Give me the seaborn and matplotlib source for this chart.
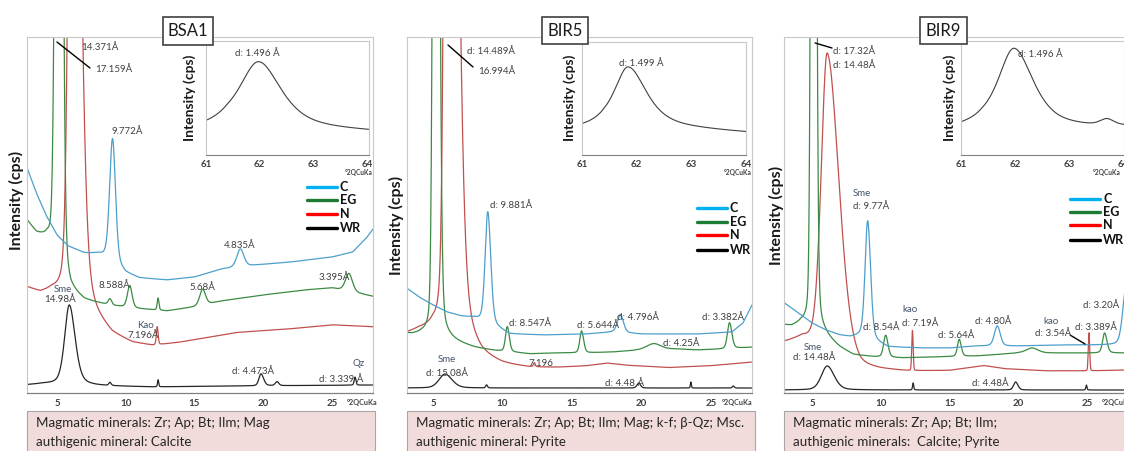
import numpy as np
import pandas as pd
import matplotlib
matplotlib.use("Agg")
import matplotlib.pyplot as plt
import seaborn as sns
from matplotlib.lines import Line2D
from matplotlib.patches import Rectangle
from matplotlib.ticker import MultipleLocator

sns.set_theme(style="white")
plt.rcParams["font.family"] = ["Lato", "DejaVu Sans"]

LAMBDA = 1.5406  # Cu K-alpha wavelength, Å

# ---------------------------------------------------------------------------
# Diffractogram description: background knots (°2θ, cps) and reflections
# (d-spacing Å, height cps, FWHM low-angle side, FWHM high-angle side, eta)
# ---------------------------------------------------------------------------
SERIES = ["C", "EG", "N", "WR"]

# BSA1
BSA1_C_BG = [(2.8, 226), (3.5, 200), (4.2, 178), (5.0, 158), (5.8, 147), (7, 140), (8, 139), (9, 133),
             (10, 120), (11, 115), (13, 113), (15, 116), (17, 124), (19.5, 128), (22, 131), (25, 136),
             (26.5, 141), (27.5, 155), (28.2, 168)]
BSA1_C_PK = [(9.772, 122, 0.5, 0.5, 0.3), (4.835, 18, 0.6, 0.6, 0.3)]
BSA1_EG_BG = [(2.8, 172), (3.5, 158), (4.3, 150), (6, 100), (7, 92), (9, 87), (11, 84), (13, 82), (15, 86),
              (17, 92), (20, 98), (23, 103), (25, 105), (28.2, 96)]
BSA1_EG_PK = [(17.159, 1500, 0.45, 0.45, 0.15), (9.98, 6, 0.3, 0.3, 0.3), (8.588, 22, 0.4, 0.4, 0.3),
              (7.16, 12, 0.15, 0.15, 0.3), (5.68, 16, 0.5, 0.5, 0.3), (3.395, 18, 0.6, 0.6, 0.3)]
BSA1_N_BG = [(2.8, 105), (3.8, 99), (4.6, 100), (5.5, 95), (7, 78), (8, 66), (9, 55), (10.5, 48), (12, 46),
             (14, 50), (16, 55), (18, 60), (20, 62), (22, 64), (25, 68), (28.2, 66)]
BSA1_N_PK = [(14.371, 900, 0.6, 1.1, 0.25), (7.196, 18, 0.15, 0.15, 0.3)]
BSA1_WR_BG = [(2.8, 8), (4, 9), (8, 7), (12, 6), (18, 7), (28.2, 8)]
BSA1_WR_PK = [(14.98, 80, 0.8, 1.0, 0.4), (9.98, 3, 0.2, 0.2, 0.3), (7.16, 7, 0.1, 0.1, 0.3),
              (4.473, 12, 0.35, 0.45, 0.3), (4.227, 4, 0.3, 0.3, 0.3), (3.339, 8, 0.15, 0.15, 0.3)]
BSA1_IN_BG = [(61, 27), (61.4, 30), (62.8, 26), (64.1, 23)]
BSA1_IN_PK = [(1.496, 65, 0.85, 1.0, 0.7)]

# BIR5
BIR5_C_BG = [(2.8, 108), (4, 96), (5, 88), (6, 81), (7, 77), (8, 75), (9.5, 66), (10.5, 59), (13, 58),
             (16, 59), (18, 61), (20, 59), (24, 59), (26.5, 61), (27.3, 70), (28.2, 95)]
BIR5_C_PK = [(9.881, 112, 0.45, 0.5, 0.3), (4.796, 18, 0.5, 0.5, 0.3)]
BIR5_EG_BG = [(2.8, 60), (3.5, 58), (4.2, 58), (6, 52), (8, 45), (9.5, 42), (12, 39), (14, 40), (16, 40),
              (18, 41), (20, 43), (22.5, 44), (24, 43), (26, 44), (28.2, 46)]
BIR5_EG_PK = [(16.994, 1500, 0.35, 0.45, 0.15), (8.547, 25, 0.3, 0.35, 0.3), (5.644, 22, 0.3, 0.35, 0.3),
              (4.25, 6, 1.2, 1.2, 0.3), (3.382, 26, 0.35, 0.4, 0.3)]
BIR5_N_BG = [(2.8, 58), (4, 62), (5, 62), (6.5, 45), (7.5, 35), (8.5, 27), (10, 24), (12, 23), (14, 24),
             (16, 26), (17.5, 29), (19, 27), (22, 25), (25, 27), (28.2, 31)]
BIR5_N_PK = [(14.489, 1400, 0.5, 1.2, 0.25), (7.196, 4, 0.15, 0.15, 0.3)]
BIR5_WR_BG = [(2.8, 5), (28.2, 5)]
BIR5_WR_PK = [(15.08, 14, 1.0, 1.2, 0.3), (9.98, 3, 0.15, 0.15, 0.3), (4.48, 5, 0.3, 0.3, 0.3),
              (3.775, 6, 0.08, 0.08, 0.3), (3.348, 2, 0.15, 0.15, 0.3)]
BIR5_IN_BG = [(61, 27), (61.4, 30), (62.6, 27), (64.1, 22)]
BIR5_IN_PK = [(1.499, 60, 0.6, 0.8, 0.7)]

# BIR9
BIR9_C_BG = [(2.8, 92), (4, 80), (5, 70), (6, 63), (7, 58), (7.8, 56), (8.5, 57), (9.5, 52), (10.5, 46),
             (13, 45), (15, 45), (17, 47), (20, 47), (23, 48), (25, 48), (28.2, 48)]
BIR9_C_PK = [(9.77, 118, 0.45, 0.5, 0.3), (4.80, 20, 0.5, 0.5, 0.3), (3.20, 60, 0.6, 0.6, 0.3)]
BIR9_EG_BG = [(2.8, 68), (3.5, 66), (4.2, 68), (6, 55), (7, 45), (8, 38), (9.5, 36), (11.5, 35), (14, 36),
              (17, 37), (20, 40), (22, 40), (25, 40), (28.2, 40)]
BIR9_EG_PK = [(17.32, 1800, 0.3, 0.35, 0.15), (8.54, 22, 0.35, 0.4, 0.3), (5.64, 17, 0.3, 0.35, 0.3),
              (4.227, 5, 1.0, 1.0, 0.3), (3.389, 20, 0.35, 0.4, 0.3)]
BIR9_N_BG = [(2.8, 50), (4.3, 55), (5.5, 50), (7, 35), (8.5, 24), (10, 22), (12, 21), (15, 22), (17.5, 27),
             (19, 24), (22, 22), (25, 22), (28.2, 23)]
BIR9_N_PK = [(14.48, 296, 1.0, 2.0, 0.2), (7.19, 40, 0.12, 0.12, 0.1), (3.54, 38, 0.12, 0.12, 0.1)]
BIR9_WR_BG = [(2.8, 3), (28.2, 3)]
BIR9_WR_PK = [(14.48, 24, 1.0, 1.2, 0.3), (7.16, 7, 0.1, 0.1, 0.3), (4.48, 8, 0.35, 0.4, 0.3),
              (3.566, 5, 0.1, 0.1, 0.3)]
BIR9_IN_BG = [(61, 27), (61.4, 30), (62.8, 27), (63.5, 27), (64.1, 28)]
BIR9_IN_PK = [(1.496, 78, 0.7, 0.85, 0.7), (1.4597, 6, 0.3, 0.3, 0.3)]

TITLES = ["BSA1", "BIR5", "BIR9"]
MINERALS = [
    "Magmatic minerals: Zr; Ap; Bt; Ilm; Mag\nauthigenic mineral: Calcite",
    "Magmatic minerals: Zr; Ap; Bt; Ilm; Mag; k-f; β-Qz; Msc.\nauthigenic mineral: Pyrite",
    "Magmatic minerals: Zr; Ap; Bt; Ilm;\nauthigenic minerals:  Calcite; Pyrite",
]

# Peak labels: (text, °2θ, cps, alignment, style)
BSA1_NOTES = [("14.371Å", 6.75, 346, "left", "d"), ("17.159Å", 7.76, 324, "left", "d"),
              ("9.772Å", 8.93, 262, "left", "d"), ("4.835Å", 18.31, 147, "center", "d"),
              ("3.395Å", 25.15, 116, "center", "d"), ("8.588Å", 9.15, 107, "center", "d"),
              ("5.68Å", 15.6, 105, "center", "d"), ("Sme", 5.44, 104, "center", "m"),
              ("14.98Å", 5.22, 94, "center", "d"), ("Kao", 11.47, 68, "center", "m"),
              ("7.196Å", 11.25, 58, "center", "d"), ("d: 4.473Å", 19.25, 22, "center", "d"),
              ("Qz", 26.9, 30, "center", "m"), ("d: 3.339 Å", 25.65, 14, "center", "d")]
BIR5_NOTES = [("d: 14.489Å", 7.45, 341, "left", "d"), ("16.994Å", 8.24, 322, "left", "d"),
              ("d: 9.881Å", 9.1, 187, "left", "d"), ("d: 8.547Å", 11.98, 70, "center", "d"),
              ("d: 5.644Å", 16.87, 67, "center", "d"), ("d: 4.796Å", 19.75, 76, "center", "d"),
              ("d: 3.382Å", 25.86, 76, "center", "d"), ("d: 4.25Å", 22.84, 50, "center", "d"),
              ("7.196", 12.77, 30, "center", "d"), ("Sme", 6.0, 33, "center", "m"),
              ("d: 15.08Å", 6.0, 20, "center", "d"), ("d: 4.48 Å", 18.8, 9, "center", "d")]
BIR9_NOTES = [("d: 17.32Å", 6.53, 342, "left", "d"), ("d: 14.48Å", 6.53, 328, "left", "d"),
              ("Sme", 7.98, 199, "left", "m"), ("d: 9.77Å", 7.98, 186, "left", "d"),
              ("kao", 12.13, 83, "center", "m"), ("d: 7.19Å", 12.85, 69, "center", "d"),
              ("d: 8.54Å", 10.02, 65, "center", "d"), ("d: 5.64Å", 15.47, 58, "center", "d"),
              ("d: 4.80Å", 18.16, 72, "center", "d"), ("kao", 22.38, 71, "center", "m"),
              ("d: 3.54Å", 22.53, 60, "center", "d"), ("d: 3.389Å", 25.65, 65, "center", "d"),
              ("d: 3.20Å", 26.0, 87, "center", "d"), ("Sme", 5.07, 46, "center", "m"),
              ("d: 14.48Å", 5.15, 36, "center", "d"), ("d: 4.48Å", 17.95, 10, "center", "d")]
BSA1_LEADERS = [((5.0, 7.4), (351, 325))]
BIR5_LEADERS = [((6.08, 7.88), (348, 326))]
BIR9_LEADERS = [((5.22, 6.45), (350, 345)), ((23.76, 24.85), (58, 49))]
INSET_NOTES = [("d: 1.496 Å", 61.95, 102, "center"), ("d: 1.499 Å", 62.08, 92, "center"),
               ("d: 1.496 Å", 62.06, 101, "left")]

# ---------------------------------------------------------------------------
W, H = 1124, 451
LINE_COL = {"C": "#4d9fcb", "EG": "#3b8a43", "N": "#c0504d", "WR": "#262626"}
KEY_COL = {"C": "#00b0f0", "EG": "#1e7b34", "N": "#ff0000", "WR": "#000000"}
TXT = "#404040"
MIN_COL = "#44546a"


def two_theta(d):
    return np.degrees(2 * np.arcsin(LAMBDA / (2 * np.asarray(d, float))))


def pattern(x, bg, peaks):
    bx, by = zip(*bg)
    y = np.interp(x, bx, by)
    for d, h, wl, wr, eta in peaks:
        c = two_theta(d)
        u = (x - c) / np.where(x < c, wl, wr)
        y = y + h * ((1 - eta) * np.exp(-4 * np.log(2) * u ** 2) + eta / (1 + 4 * u ** 2))
    return y


def fbox(x, y, w, h):
    """pixel box (left, top, width, height) -> figure fraction rect"""
    return [x / W, 1 - (y + h) / H, w / W, h / H]


def fx(x):
    return x / W


def fy(y):
    return 1 - y / H


fig = plt.figure(figsize=(W / 100, H / 100), dpi=100)
fig.patch.set_facecolor("white")

panels = [
    dict(main=(27, 37, 346, 356), xlim=(2.82, 27.98), inset=(206, 41, 163, 114), ixlim=(61, 64.04),
         bg=[BSA1_C_BG, BSA1_EG_BG, BSA1_N_BG, BSA1_WR_BG], pk=[BSA1_C_PK, BSA1_EG_PK, BSA1_N_PK, BSA1_WR_PK],
         ibg=BSA1_IN_BG, ipk=BSA1_IN_PK, notes=BSA1_NOTES, leaders=BSA1_LEADERS,
         title=(163, 17, 50, 28), ylab=(16, 200), iylab=(190, 98), key=(307, 340, [187, 200, 214, 228]),
         unit=(347, 402), iunit=(373, 173), box=(27, 411, 348, 50)),
    dict(main=(407, 37, 345, 356), xlim=(3.13, 27.95), inset=(582, 42, 164, 113), ixlim=(61, 64.0),
         bg=[BIR5_C_BG, BIR5_EG_BG, BIR5_N_BG, BIR5_WR_BG], pk=[BIR5_C_PK, BIR5_EG_PK, BIR5_N_PK, BIR5_WR_PK],
         ibg=BIR5_IN_BG, ipk=BIR5_IN_PK, notes=BIR5_NOTES, leaders=BIR5_LEADERS,
         title=(542, 17, 46, 27), ylab=(396, 225), iylab=(570, 98), key=(697, 730, [208, 222, 235, 250]),
         unit=(722, 402), iunit=(752, 173), box=(407, 411, 348, 50)),
    dict(main=(784, 37, 346, 356), xlim=(2.96, 28.12), inset=(961, 41, 163, 114), ixlim=(61, 64.02),
         bg=[BIR9_C_BG, BIR9_EG_BG, BIR9_N_BG, BIR9_WR_BG], pk=[BIR9_C_PK, BIR9_EG_PK, BIR9_N_PK, BIR9_WR_PK],
         ibg=BIR9_IN_BG, ipk=BIR9_IN_PK, notes=BIR9_NOTES, leaders=BIR9_LEADERS,
         title=(920, 17, 47, 27), ylab=(776, 215), iylab=(950, 98), key=(1070, 1103, [199, 212, 225, 240]),
         unit=(1102, 402), iunit=(1093, 173), box=(784, 411, 360, 50)),
]

for i, p in enumerate(panels):
    ax = fig.add_axes(fbox(*p["main"]))
    ax.set_facecolor("none")
    x = np.linspace(p["xlim"][0], p["xlim"][1], 4000)
    frames = []
    for name, bg, pk in zip(SERIES, p["bg"], p["pk"]):
        frames.append(pd.DataFrame({"two_theta": x, "intensity": pattern(x, bg, pk), "sample": name}))
    df = pd.concat(frames, ignore_index=True)
    sns.lineplot(data=df, x="two_theta", y="intensity", hue="sample", hue_order=["WR", "N", "EG", "C"],
                 palette=LINE_COL, estimator=None, sort=False, legend=False, lw=0.9, ax=ax)
    ax.set_xlim(*p["xlim"])
    ax.set_ylim(0, 356)
    ax.set_xlabel("")
    ax.set_ylabel("")
    ax.set_yticks([])
    ax.set_xticks([5, 10, 15, 20, 25])
    ax.xaxis.set_minor_locator(MultipleLocator(1))
    ax.tick_params(axis="x", which="both", direction="out", length=3, width=0.7, color="#7f7f7f",
                   pad=1.5, labelsize=7, labelcolor=TXT)
    for lab in ax.get_xticklabels():
        lab.set_fontweight("bold")
    for s in ["left", "top", "right"]:
        ax.spines[s].set_color("#c8c8c8")
        ax.spines[s].set_linewidth(0.8)
    ax.spines["bottom"].set_color("#808080")
    ax.spines["bottom"].set_linewidth(0.9)

    for text, tx, ty, ha, style in p["notes"]:
        ax.text(tx, ty, text, ha=ha, va="center", fontsize=7,
                color=MIN_COL if style == "m" else TXT)
    for lx, ly in p["leaders"]:
        ax.plot(lx, ly, color="black", lw=1.0)

    # inset: the 060 reflection
    ia = fig.add_axes(fbox(*p["inset"]))
    ia.set_facecolor("white")
    ix = np.linspace(61, 64.1, 1500)
    idf = pd.DataFrame({"two_theta": ix, "intensity": pattern(ix, p["ibg"], p["ipk"])})
    sns.lineplot(data=idf, x="two_theta", y="intensity", color="#404040", lw=0.8,
                 estimator=None, sort=False, ax=ia)
    ia.set_xlim(*p["ixlim"])
    ia.set_ylim(0, 114)
    ia.set_xlabel("")
    ia.set_ylabel("")
    ia.set_yticks([])
    ia.set_xticks([61, 62, 63, 64])
    ia.xaxis.set_minor_locator(MultipleLocator(0.1))
    ia.tick_params(axis="x", which="major", direction="out", length=2.5, width=0.7, color="#7f7f7f",
                   pad=1.0, labelsize=7, labelcolor=TXT)
    ia.tick_params(axis="x", which="minor", direction="out", length=1.5, width=0.5, color="#9a9a9a")
    for lab in ia.get_xticklabels():
        lab.set_fontweight("bold")
    for s in ["left", "top", "right"]:
        ia.spines[s].set_color("#c8c8c8")
        ia.spines[s].set_linewidth(0.8)
    ia.spines["bottom"].set_color("#808080")
    ia.spines["bottom"].set_linewidth(0.8)
    t, tx, ty, ha = INSET_NOTES[i]
    ia.text(tx, ty, t, ha=ha, va="center", fontsize=7, color=TXT)

    # axis titles and units
    fig.text(fx(p["ylab"][0]), fy(p["ylab"][1]), "Intensity (cps)", rotation=90, ha="center", va="center",
             fontsize=11.5, fontweight="bold", color="#1a1a1a")
    fig.text(fx(p["iylab"][0]), fy(p["iylab"][1]), "Intensity (cps)", rotation=90, ha="center", va="center",
             fontsize=10, fontweight="bold", color="#1a1a1a")
    fig.text(fx(p["unit"][0]), fy(p["unit"][1]), "°2QCuKa", ha="left", va="center", fontsize=5.2,
             fontweight="bold", color=TXT)
    fig.text(fx(p["iunit"][0]), fy(p["iunit"][1]), "°2QCuKa", ha="right" if i < 2 else "left",
             va="center", fontsize=4.8, fontweight="bold", color=TXT)

    # key
    x0, xt, rows = p["key"]
    for name, ry in zip(SERIES, rows):
        fig.add_artist(Line2D([fx(x0), fx(x0 + 30)], [fy(ry), fy(ry)], color=KEY_COL[name], lw=2.4,
                              transform=fig.transFigure))
        fig.text(fx(xt), fy(ry), name, ha="left", va="center", fontsize=9, fontweight="bold",
                 color="#111111")

    # sample title box
    bx, by, bw, bh = p["title"]
    fig.add_artist(Rectangle((fx(bx), fy(by + bh)), bw / W, bh / H, transform=fig.transFigure,
                             facecolor="white", edgecolor="#404040", lw=1.2, zorder=5))
    fig.text(fx(bx + bw / 2), fy(by + bh / 2), TITLES[i], ha="center", va="center", fontsize=12,
             color="#1a1a1a", zorder=6)

    # mineral summary box
    qx, qy, qw, qh = p["box"]
    fig.add_artist(Rectangle((fx(qx), fy(qy + qh)), qw / W, qh / H, transform=fig.transFigure,
                             facecolor="#f2dcdb", edgecolor="#a6a6a6", lw=0.8))
    line1, line2 = MINERALS[i].split("\n")
    fig.text(fx(qx + 9), fy(423), line1, ha="left", va="center", fontsize=9.6, color="#262626")
    fig.text(fx(qx + 9), fy(442), line2, ha="left", va="center", fontsize=9.6, color="#262626")

fig.savefig("out.png", dpi=100, facecolor="white")
